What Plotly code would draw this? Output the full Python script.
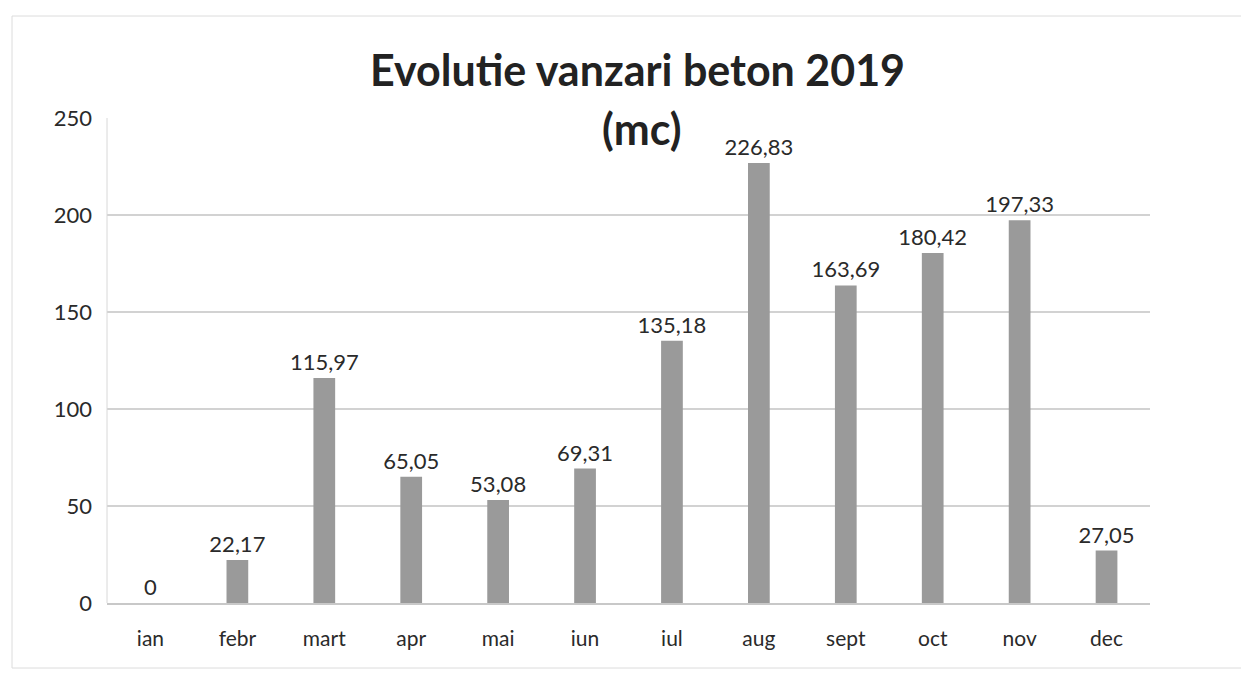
import plotly.graph_objects as go

months = ["ian", "febr", "mart", "apr", "mai", "iun", "iul", "aug", "sept", "oct", "nov", "dec"]
values = [0, 22.17, 115.97, 65.05, 53.08, 69.31, 135.18, 226.83, 163.69, 180.42, 197.33, 27.05]
y_ticks = [0, 50, 100, 150, 200, 250]
title_line1 = "Evolutie vanzari beton 2019"
title_line2 = "(mc)"


def fmt(v):
    if v == int(v):
        return str(int(v))
    return f"{v:.2f}".replace(".", ",")


labels = [fmt(v) for v in values]
FONT = "Lato, 'Open Sans', sans-serif"

# page has 8px body margin; target plot area on screen: x 107..1150, y 118..603
OFF = 8
L, R, T, B = 107 - OFF, 1249 - (1150 - OFF), 118 - OFF, 676 - (603 - OFF)
pw = 1249 - L - R
ph = 676 - T - B


def px_x(x):
    return (x - OFF - L) / pw


def px_y(y):
    return 1 - (y - OFF - T) / ph


fig = go.Figure(
    go.Bar(
        x=months,
        y=values,
        text=labels,
        textposition="outside",
        constraintext="none",
        cliponaxis=False,
        textfont=dict(family=FONT, size=22, color="#2a2a2a"),
        marker=dict(color="#9a9a9a", line=dict(width=0)),
    )
)

fig.update_layout(
    width=1249,
    height=676,
    paper_bgcolor="white",
    plot_bgcolor="white",
    margin=dict(l=L, r=R, t=T, b=B),
    bargap=0.75,
    showlegend=False,
    font=dict(family=FONT, color="#333333"),
    annotations=[
        dict(text=title_line1, x=px_x(637), y=px_y(70), xref="paper", yref="paper",
             xanchor="center", yanchor="middle", showarrow=False,
             font=dict(family=FONT, size=43, color="#222222", weight="bold")),
        dict(text=title_line2, x=px_x(641), y=px_y(128), xref="paper", yref="paper",
             xanchor="center", yanchor="middle", showarrow=False,
             font=dict(family=FONT, size=43, color="#222222", weight="bold")),
    ],
)

fig.update_yaxes(
    range=[0, 250],
    tickvals=y_ticks,
    showgrid=True,
    gridcolor="#d2d2d2",
    gridwidth=1.5,
    zeroline=False,
    showline=False,
    ticks="",
    ticklabelstandoff=14,
    tickfont=dict(family=FONT, size=22, color="#2a2a2a"),
)
fig.update_xaxes(
    showline=True,
    linecolor="#c8c8c8",
    linewidth=1.5,
    showgrid=False,
    ticks="",
    ticklabelstandoff=16,
    tickfont=dict(family=FONT, size=21, color="#2a2a2a"),
)

fig.add_shape(type="line", xref="paper", yref="paper", x0=0, x1=0, y0=0, y1=1,
              line=dict(color="#d8d8d8", width=1))
fig.add_shape(type="rect", xref="paper", yref="paper",
              x0=px_x(12), x1=px_x(1246),
              y0=px_y(668), y1=px_y(16),
              line=dict(color="#dcdcdc", width=1))

fig.write_html("out.html")
